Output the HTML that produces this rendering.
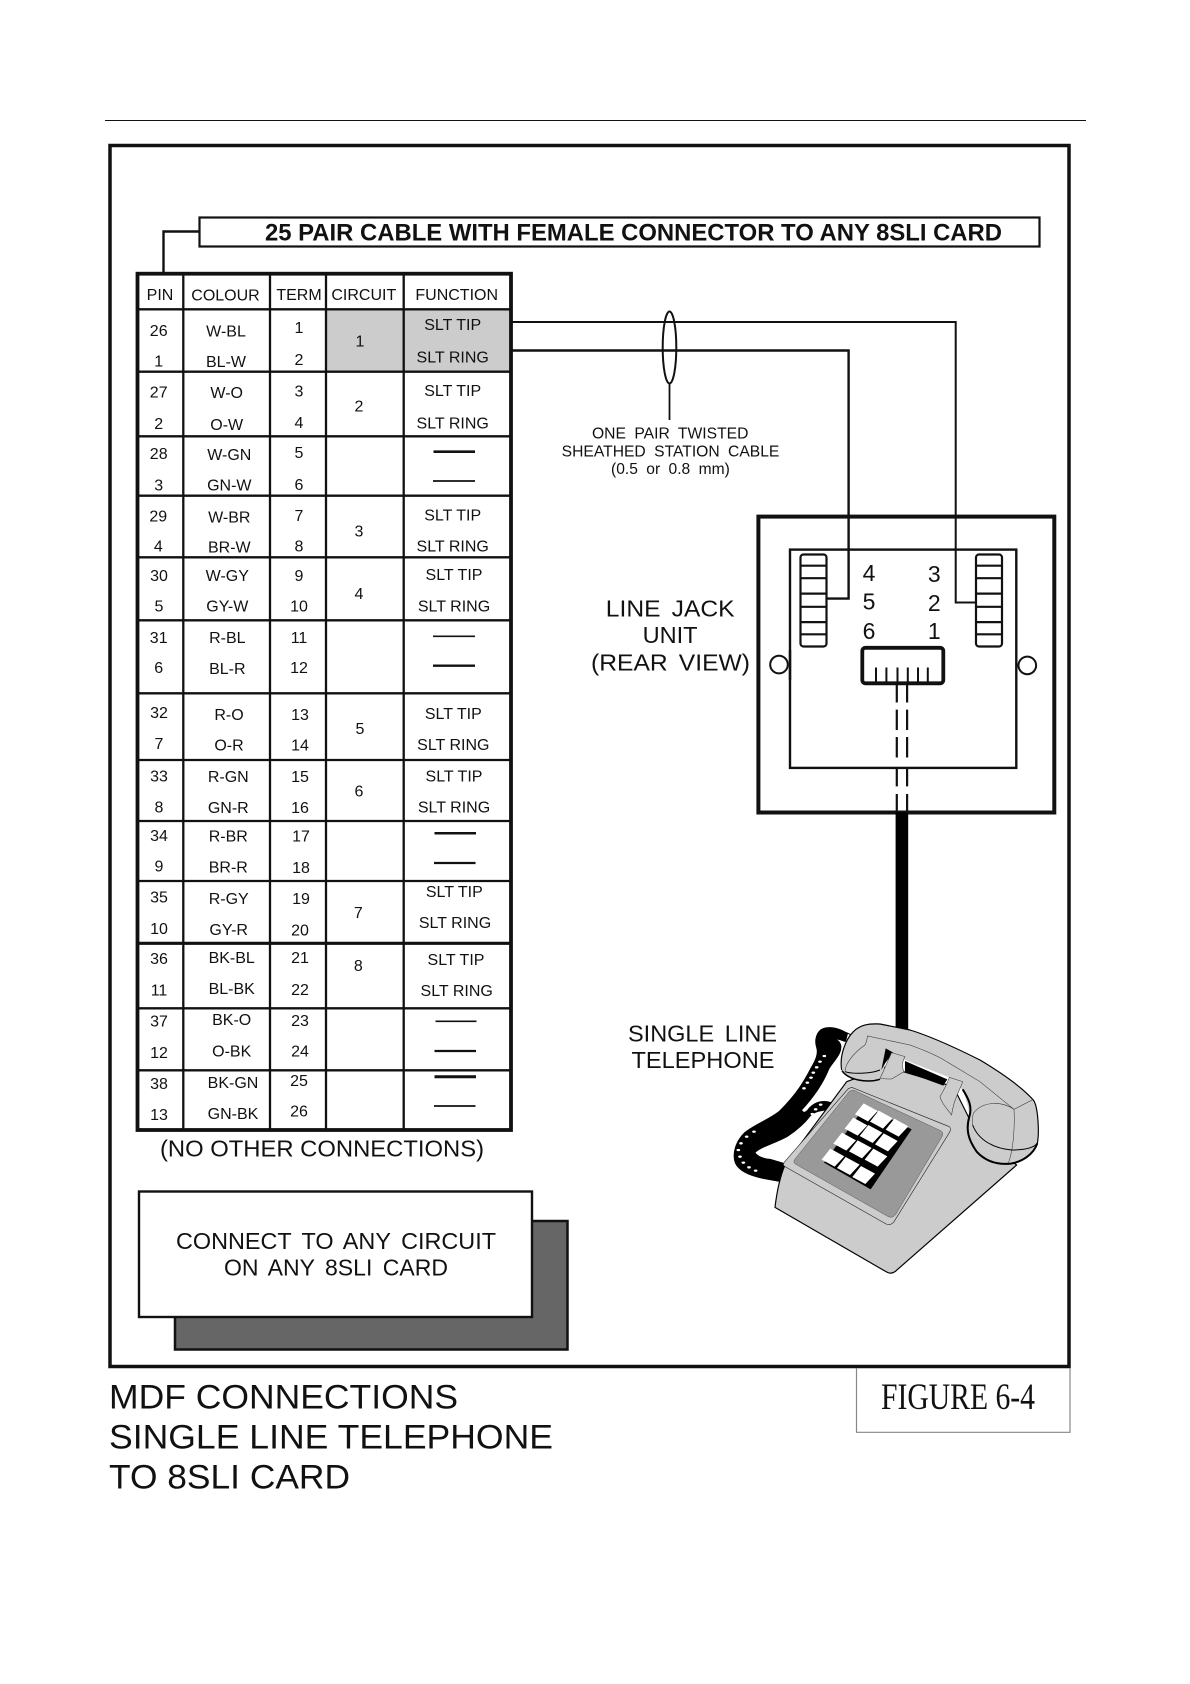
<!DOCTYPE html>
<html><head><meta charset="utf-8"><style>
html,body{margin:0;padding:0;background:#fff}
svg{display:block}
text{font-family:"Liberation Sans",sans-serif;fill:#111}
.t text{font-size:16px;text-anchor:middle}
.l{stroke:#111;fill:none}
.w{word-spacing:4px}
</style></head><body>
<svg width="1190" height="1684" viewBox="0 0 1190 1684" xmlns="http://www.w3.org/2000/svg">
<rect width="1190" height="1684" fill="#fff"/>
<line x1="105" y1="120.5" x2="1086" y2="120.5" stroke="#111" stroke-width="1"/>
<rect x="110" y="145.5" width="959" height="1221" class="l" stroke-width="3.5"/>

<!-- figure box -->
<path d="M856.5 1368V1432.3H1070V1368" fill="none" stroke="#888" stroke-width="1.2"/>
<text x="881" y="1409" textLength="154" lengthAdjust="spacingAndGlyphs" style="font-family:'Liberation Serif',serif;font-size:37px">FIGURE 6-4</text>

<!-- title -->
<rect x="199.5" y="217.5" width="840" height="29" class="l" stroke-width="2.2"/>
<path d="M199 231.5H163.5V272" class="l" stroke-width="2.4"/>
<text x="265" y="240.7" textLength="737" lengthAdjust="spacingAndGlyphs" style="font-size:24px;font-weight:bold">25 PAIR CABLE WITH FEMALE CONNECTOR TO ANY 8SLI CARD</text>

<!-- table -->
<rect x="326" y="309" width="185" height="63" fill="#ccc"/>
<rect x="137.5" y="273.7" width="373.5" height="856.3" class="l" stroke-width="3.8"/>
<g class="l" stroke-width="2.3">
<path d="M183.3 274V1130M270 274V1130M326 274V1130M403.7 274V1130"/>
<path d="M138 309.3H511M138 371.7H511M138 436.3H511M138 495.7H511M138 557.3H511M138 620.3H511M138 693.3H511M138 760H511M138 821H511M138 881H511M138 1008.3H511M138 1070.3H511"/>
<path d="M138 943.3H511" stroke-width="3.2"/>
</g>
<g class="l">
<path d="M433.5 451.7H475" stroke-width="2.6"/><path d="M433 481H475" stroke-width="1.7"/>
<path d="M433 636.3H475" stroke-width="1.7"/><path d="M433 665.7H475" stroke-width="2.3"/>
<path d="M434.5 833.3H476" stroke-width="2.5"/><path d="M434 863H475.5" stroke-width="2.2"/>
<path d="M435.5 1021.3H476.5" stroke-width="1.7"/><path d="M434.5 1051H476" stroke-width="2.3"/>
<path d="M434.5 1076.7H476" stroke-width="3"/><path d="M434 1106H475.5" stroke-width="1.7"/>
</g>
<g class="t" transform="translate(0,-.2)">
<text x="160" y="300.4">PIN</text><text x="225.5" y="300.9">COLOUR</text><text x="299" y="300.4">TERM</text><text x="363.8" y="300.4">CIRCUIT</text><text x="456.7" y="300.4">FUNCTION</text>

<text x="158.7" y="336">26</text><text x="226" y="336.7">W-BL</text><text x="299" y="333.3">1</text><text x="452.7" y="330">SLT TIP</text>
<text x="158.7" y="366.7">1</text><text x="226" y="367">BL-W</text><text x="299" y="365">2</text><text x="452.7" y="362.7">SLT RING</text>
<text x="360" y="346.7">1</text>

<text x="158.7" y="397.7">27</text><text x="226.7" y="398.3">W-O</text><text x="299" y="396.7">3</text><text x="452.7" y="396">SLT TIP</text>
<text x="158.7" y="429.3">2</text><text x="226.7" y="430">O-W</text><text x="299" y="428.3">4</text><text x="452.7" y="428.7">SLT RING</text>
<text x="359" y="411.7">2</text>

<text x="158.7" y="459">28</text><text x="229.3" y="460">W-GN</text><text x="299" y="458.3">5</text>
<text x="158.7" y="490.7">3</text><text x="229.3" y="490.7">GN-W</text><text x="299" y="490">6</text>

<text x="158.3" y="521.7">29</text><text x="229.3" y="522.7">W-BR</text><text x="299" y="521">7</text><text x="452.7" y="520.7">SLT TIP</text>
<text x="158.3" y="551.7">4</text><text x="229.3" y="552.7">BR-W</text><text x="299" y="551.7">8</text><text x="452.7" y="551.7">SLT RING</text>
<text x="359" y="536.7">3</text>

<text x="159" y="581">30</text><text x="227.3" y="581">W-GY</text><text x="299" y="581">9</text><text x="454" y="580">SLT TIP</text>
<text x="159" y="611.7">5</text><text x="227.3" y="611.7">GY-W</text><text x="299" y="611.7">10</text><text x="454" y="611.7">SLT RING</text>
<text x="359" y="599.3">4</text>

<text x="158.7" y="643.3">31</text><text x="227.3" y="643.3">R-BL</text><text x="299" y="643.3">11</text>
<text x="158.7" y="673.3">6</text><text x="227.3" y="674">BL-R</text><text x="299" y="673.3">12</text>

<text x="159" y="718.3">32</text><text x="229" y="720">R-O</text><text x="300" y="720">13</text><text x="453.3" y="719">SLT TIP</text>
<text x="159" y="749.3">7</text><text x="229" y="750.7">O-R</text><text x="300" y="750.7">14</text><text x="453.3" y="750">SLT RING</text>
<text x="360" y="734">5</text>

<text x="159" y="781.7">33</text><text x="228.3" y="782.3">R-GN</text><text x="300" y="782.3">15</text><text x="454" y="781.7">SLT TIP</text>
<text x="159" y="812.7">8</text><text x="228.3" y="813.3">GN-R</text><text x="300" y="813.3">16</text><text x="454" y="812.7">SLT RING</text>
<text x="359" y="796.7">6</text>

<text x="159" y="841">34</text><text x="228.3" y="841.7">R-BR</text><text x="301" y="841.7">17</text>
<text x="159" y="871.7">9</text><text x="228.3" y="872.7">BR-R</text><text x="301" y="873.3">18</text>

<text x="159" y="902.7">35</text><text x="228.7" y="904">R-GY</text><text x="301" y="904">19</text><text x="454.3" y="897.3">SLT TIP</text>
<text x="159" y="934">10</text><text x="228.7" y="935">GY-R</text><text x="300" y="935.7">20</text><text x="455" y="928.3">SLT RING</text>
<text x="358.3" y="918.3">7</text>

<text x="159" y="964.3">36</text><text x="231.7" y="963.3">BK-BL</text><text x="300" y="963.3">21</text><text x="456" y="965">SLT TIP</text>
<text x="159" y="995.7">11</text><text x="231.7" y="994.3">BL-BK</text><text x="300" y="995">22</text><text x="456.7" y="996">SLT RING</text>
<text x="358.3" y="971">8</text>

<text x="159" y="1026.7">37</text><text x="231.7" y="1025.3">BK-O</text><text x="300" y="1026">23</text>
<text x="159" y="1058.3">12</text><text x="231.7" y="1056.7">O-BK</text><text x="300" y="1056.7">24</text>

<text x="159" y="1089.3">38</text><text x="233" y="1088.3">BK-GN</text><text x="299" y="1086">25</text>
<text x="159" y="1120">13</text><text x="233" y="1119.3">GN-BK</text><text x="299" y="1116.7">26</text>
</g>
<text x="160" y="1156.5" textLength="324" lengthAdjust="spacingAndGlyphs" style="font-size:23.5px">(NO OTHER CONNECTIONS)</text>

<!-- connect box -->
<rect x="175" y="1221" width="392.5" height="128.5" fill="#666" stroke="#111" stroke-width="2.5"/>
<rect x="139" y="1191.5" width="393" height="125.5" fill="#fff" stroke="#111" stroke-width="2.4"/>
<text x="176" y="1249" textLength="320" lengthAdjust="spacingAndGlyphs" class="w" style="font-size:23px">CONNECT TO ANY CIRCUIT</text>
<text x="224" y="1275.7" textLength="224" lengthAdjust="spacingAndGlyphs" class="w" style="font-size:23px">ON ANY 8SLI CARD</text>

<!-- bottom heading -->
<text x="109" y="1408.3" textLength="349" lengthAdjust="spacingAndGlyphs" style="font-size:34px">MDF CONNECTIONS</text>
<text x="109" y="1448.3" textLength="444" lengthAdjust="spacingAndGlyphs" style="font-size:34px">SINGLE LINE TELEPHONE</text>
<text x="109" y="1488.3" textLength="241" lengthAdjust="spacingAndGlyphs" style="font-size:34px">TO 8SLI CARD</text>

<!-- jack unit -->
<rect x="758.4" y="516.6" width="295.9" height="295.9" class="l" stroke-width="4"/>
<rect x="790" y="549.6" width="226.3" height="218.3" class="l" stroke-width="2.4"/>
<circle cx="779" cy="664.6" r="8.8" fill="#fff" stroke="#111" stroke-width="2"/>
<path d="M790 650V680" class="l" stroke-width="2.4"/>
<circle cx="1027.3" cy="665.4" r="8.8" fill="#fff" stroke="#111" stroke-width="2"/>
<g class="l" stroke-width="2.2">
<rect x="800.5" y="554.5" width="26" height="92" rx="3"/>
<path d="M801 565.7H826M801 578.2H826M801 593.6H826M801 606.8H826M801 622.1H826M801 634.3H826"/>
<rect x="976" y="554.5" width="26" height="92" rx="3"/>
<path d="M977 565.7H1002M977 578.2H1002M977 593.6H1002M977 606.8H1002M977 622.1H1002M977 634.3H1002"/>
</g>
<!-- wires -->
<path d="M512 322H955.7V602.5H975.6" class="l" stroke-width="2"/>
<path d="M512 350.5H848.6V598.6H826.9" class="l" stroke-width="2.4"/>
<ellipse cx="669.5" cy="347.5" rx="6.8" ry="36" class="l" stroke-width="2"/>
<path d="M669.5 383V420" class="l" stroke-width="1.8"/>
<text x="592" y="438.6" textLength="156.4" lengthAdjust="spacingAndGlyphs" class="w" style="font-size:15.4px">ONE PAIR TWISTED</text>
<text x="561.7" y="456.4" textLength="217.7" lengthAdjust="spacingAndGlyphs" class="w" style="font-size:15.4px">SHEATHED STATION CABLE</text>
<text x="611" y="474" textLength="118.8" lengthAdjust="spacingAndGlyphs" class="w" style="font-size:15.4px">(0.5 or 0.8 mm)</text>
<g style="font-size:23px;text-anchor:middle">
<text x="869" y="581">4</text><text x="869" y="609.6">5</text><text x="869" y="638.9">6</text>
<text x="934.3" y="581.8">3</text><text x="934.3" y="611">2</text><text x="934.3" y="638.9">1</text>
</g>
<text x="605.8" y="616.4" textLength="128.8" lengthAdjust="spacingAndGlyphs" class="w" style="font-size:23px">LINE JACK</text>
<text x="642.6" y="642.9" textLength="55" lengthAdjust="spacingAndGlyphs" style="font-size:23px">UNIT</text>
<text x="591" y="670.7" textLength="159" lengthAdjust="spacingAndGlyphs" class="w" style="font-size:23px">(REAR VIEW)</text>
<rect x="862.3" y="647.8" width="81" height="35.5" rx="3" fill="#fff" stroke="#111" stroke-width="3.8"/>
<path d="M876 667.5V682M886.4 667.5V682M897.5 667.5V682M907.8 667.5V682M918 667.5V682M927.8 667.5V682" class="l" stroke-width="2"/>
<path d="M896.8 684V702.5M896.8 709.6V730M896.8 737V757.5M896.8 769V786.4M896.8 794V812M907.1 684V702.5M907.1 709.6V730M907.1 737V757.5M907.1 769V786.4M907.1 794V812" class="l" stroke-width="2.2"/>
<rect x="895.6" y="812" width="12.6" height="217" fill="#000"/>

<text x="628" y="1041.7" textLength="149" lengthAdjust="spacingAndGlyphs" class="w" style="font-size:23px">SINGLE LINE</text>
<text x="631.5" y="1068" textLength="143" lengthAdjust="spacingAndGlyphs" style="font-size:23px">TELEPHONE</text>

<!-- telephone -->
<g transform="translate(720 1000) scale(.33333)">
<defs><polygon id="k" points="-7,-27 35,-4 6,27 -33,6" fill="#fff"/></defs>
<!-- cord -->
<g transform="translate(30 30)">
<path d="M350,72 C330,58 300,50 280,58 C262,65 255,90 262,112 C268,130 260,150 245,175 C225,215 200,255 150,305 C120,330 75,345 45,370 C20,395 8,430 18,458 C30,485 70,498 110,505 L150,512 L170,465 L120,450 C95,448 80,440 72,428 C85,410 130,400 170,378 C205,355 225,335 240,315 C255,300 280,300 300,295 L308,282 C285,272 260,275 240,295 C230,310 220,315 212,300 C240,270 275,225 295,175 C310,150 335,130 330,105 C325,90 305,82 290,86 C300,80 330,85 345,92 Z" fill="#000" stroke="#000" stroke-width="7" stroke-linejoin="round"/>
<path d="M312,60 Q340,62 362,74" fill="none" stroke="#000" stroke-width="3"/>
<g fill="#fff">
<ellipse cx="283" cy="138" rx="5.5" ry="3.5"/><ellipse cx="270" cy="155" rx="5.5" ry="3.5"/><ellipse cx="260" cy="172" rx="5.5" ry="3.5"/><ellipse cx="250" cy="188" rx="5.5" ry="3.5"/><ellipse cx="243" cy="203" rx="5.5" ry="3.5"/><ellipse cx="232" cy="218" rx="5.5" ry="3.5"/><ellipse cx="222" cy="235" rx="5.5" ry="3.5"/>
<ellipse cx="272" cy="284" rx="5.5" ry="3.5"/><ellipse cx="257" cy="298" rx="5.5" ry="3.5"/><ellipse cx="247" cy="312" rx="5.5" ry="3.5"/>
<ellipse cx="72" cy="365" rx="5.5" ry="3.5"/><ellipse cx="50" cy="380" rx="5.5" ry="3.5"/><ellipse cx="33" cy="400" rx="5.5" ry="3.5"/><ellipse cx="25" cy="420" rx="5.5" ry="3.5"/><ellipse cx="30" cy="440" rx="5.5" ry="3.5"/><ellipse cx="40" cy="458" rx="5.5" ry="3.5"/><ellipse cx="57" cy="472" rx="5.5" ry="3.5"/><ellipse cx="77" cy="482" rx="5.5" ry="3.5"/>
</g>
</g>
<!-- body -->
<path d="M165,622 C170,580 180,530 195,495 L380,245 L500,200 L700,260 L770,400 L890,495 L525,815 Q512,824 498,815 Z" fill="#ccc" stroke="#000" stroke-width="3.5" stroke-linejoin="round"/>
<!-- slot -->
<polygon points="555,183 682,238 670,257 555,215" fill="#000"/>
<!-- handset -->
<path d="M365,210 C358,170 375,120 400,95 C420,75 445,70 480,72 L570,90 C620,105 700,140 780,180 C830,210 900,255 940,300 C955,320 958,400 952,430 C945,460 900,480 870,490 C830,495 790,480 770,455 C745,430 738,395 745,365 C750,340 745,315 728,270 L688,232 L555,180 L503,150 C498,190 490,215 480,235 C440,250 385,245 365,210 Z" fill="#ccc"/>
<path d="M365,210 C358,170 375,120 400,95 C420,75 445,70 480,72 L570,90 C620,105 700,140 780,180 C830,210 900,255 940,300 C955,320 958,400 952,430" fill="none" stroke="#000" stroke-width="3.5"/>
<path d="M728,268 C745,295 758,320 748,350 C738,385 742,415 770,455 C795,482 830,495 872,491 C905,485 940,465 952,430" fill="none" stroke="#000" stroke-width="6"/>
<path d="M366,212 C385,240 440,250 480,238" fill="none" stroke="#000" stroke-width="4.5"/>
<path d="M375,215 C395,222 450,222 480,210" fill="none" stroke="#000" stroke-width="3"/>
<polygon points="497,145 520,158 495,190 484,210" fill="#000"/>
<g fill="none" stroke="#333" stroke-width="1.6">
<path d="M375,215 C375,190 405,155 435,135 Q442,120 442,108 L570,135 C610,150 650,165 680,185 L780,245 L882,328 L940,298"/>
<path d="M882,328 C885,380 880,450 865,490"/>
<path d="M882,328 C850,305 790,300 760,340 Q755,360 758,375"/>
</g>
<path d="M758,375 C775,420 820,445 875,450 C910,450 940,445 952,430" fill="none" stroke="#000" stroke-width="3"/>
<path d="M515,158 L555,170 C545,190 545,200 552,215 L515,237 C500,237 490,236 480,235 C490,215 500,190 515,158Z" fill="#ccc" stroke="#333" stroke-width="1.6"/>
<path d="M688,232 L728,245 C722,265 700,300 695,345 C680,325 665,310 660,290 C672,270 680,255 688,232Z" fill="#ccc" stroke="#333" stroke-width="1.6"/>
<!-- faceplate -->
<path d="M395,262 L688,380 Q695,386 688,398 L522,665 Q510,680 495,670 L195,500 Q186,495 194,485 L385,266Z" fill="#ccc" stroke="#222" stroke-width="1.8"/>
<path d="M400,270 L662,392 Q672,398 666,410 L528,642 Q518,656 505,650 L226,492 Q218,487 225,477 L388,274 Z" fill="#999" stroke="#555" stroke-width="1.5"/>
<!-- keys -->
<polygon points="436,318 575,388 452,568 312,488" fill="#000"/>
<use href="#k" x="438" y="337"/><use href="#k" x="483" y="359"/><use href="#k" x="530" y="383"/>
<use href="#k" x="407" y="380"/><use href="#k" x="452" y="402"/><use href="#k" x="498" y="427"/>
<use href="#k" x="373" y="425"/><use href="#k" x="420" y="448"/><use href="#k" x="467" y="473"/>
<use href="#k" x="338" y="473"/><use href="#k" x="384" y="498"/><use href="#k" x="430" y="525"/>
</g>
</svg>
</body></html>
